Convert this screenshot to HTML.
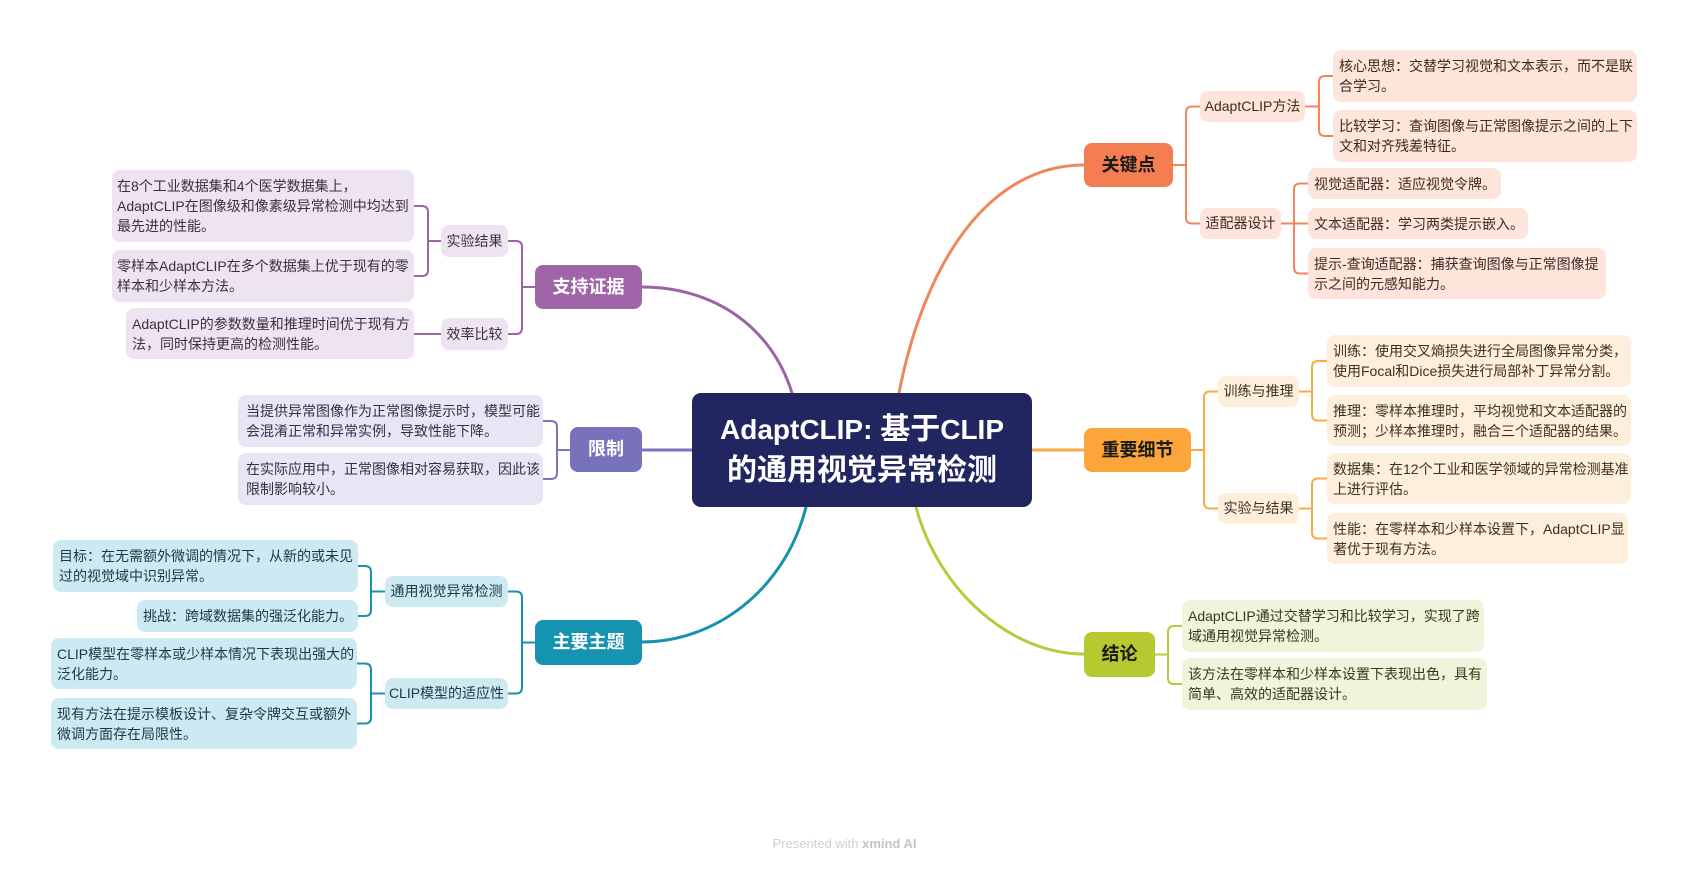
<!DOCTYPE html>
<html>
<head>
<meta charset="utf-8">
<style>
  html,body{margin:0;padding:0;}
  body{width:1689px;height:870px;background:#ffffff;position:relative;overflow:hidden;
       font-family:"Liberation Sans","Noto Sans CJK SC",sans-serif;}
  svg.wires{position:absolute;left:0;top:0;}
  .n{position:absolute;box-sizing:border-box;white-space:nowrap;}
  .leaf{font-size:14px;line-height:20px;padding:6px 0 0 6px;border-radius:8px;color:#333;}
  .sub{font-size:14px;line-height:31px;text-align:center;border-radius:8px;color:#333;}
  .main{font-size:18px;font-weight:bold;text-align:center;border-radius:8px;}
  .center{left:692px;top:393px;width:340px;height:114px;background:#212660;border-radius:9px;
          color:#fff;font-weight:bold;font-size:30px;line-height:41px;text-align:center;padding-top:16px;}
  .center .l{font-size:28px;}
  .pu{background:#ede3f1;color:#3a3040;}
  .la{background:#e8e6f4;color:#30304a;}
  .te{background:#cde9f1;color:#1e3840;}
  .or{background:#fde5dc;color:#3e2a20;}
  .ye{background:#fdefdb;color:#3e3020;}
  .gr{background:#f0f4db;color:#343a18;}
  .footer{position:absolute;left:0;top:836px;width:1689px;text-align:center;font-size:13px;color:#cfcfcf;line-height:16px;}
  .footer b{color:#c4c4c4;}
</style>
</head>
<body>
<svg class="wires" width="1689" height="870" viewBox="0 0 1689 870" fill="none" stroke-linecap="round" stroke-linejoin="round">
  <path d="M642,287 C715,287 772,328 792,393" stroke="#9c63a6" stroke-width="3"/>
  <path d="M899,393 C925,260 990,165 1084,165" stroke="#f0875c" stroke-width="3"/>
  <path d="M642,450 H692" stroke="#7b75bf" stroke-width="3"/>
  <path d="M1032,450 H1084" stroke="#f7aa45" stroke-width="3"/>
  <path d="M806,507 C785,590 715,642 642,642" stroke="#1891ad" stroke-width="3"/>
  <path d="M916,507 C938,590 1010,654 1084,654" stroke="#b9ca3c" stroke-width="3"/>

  <g stroke="#f0875c" stroke-width="2">
    <path d="M1173,165 H1186 M1200,106.5 H1192 Q1186,106.5 1186,112.5 V217.5 Q1186,223.5 1192,223.5 H1200"/>
    <path d="M1305,106.5 H1319 M1333,76 H1325 Q1319,76 1319,82 V130 Q1319,136 1325,136 H1333"/>
    <path d="M1281,223.5 H1294 M1308,183.5 H1300 Q1294,183.5 1294,189.5 V267.5 Q1294,273.5 1300,273.5 H1308 M1294,223.5 H1308"/>
  </g>
  <g stroke="#f7aa45" stroke-width="2">
    <path d="M1191,450 H1204 M1218,391.5 H1210 Q1204,391.5 1204,397.5 V502.5 Q1204,508.5 1210,508.5 H1218"/>
    <path d="M1299,391.5 H1312 M1327,361 H1318 Q1312,361 1312,367 V414.5 Q1312,420.5 1318,420.5 H1327"/>
    <path d="M1299,508.5 H1312 M1327,478.5 H1318 Q1312,478.5 1312,484.5 V532.5 Q1312,538.5 1318,538.5 H1327"/>
  </g>
  <g stroke="#b9ca3c" stroke-width="2">
    <path d="M1155,654.5 H1168 M1182,626 H1174 Q1168,626 1168,632 V678 Q1168,684 1174,684 H1182"/>
  </g>
  <g stroke="#9c63a6" stroke-width="2">
    <path d="M535,287 H522 M508,241 H516 Q522,241 522,247 V328 Q522,334 516,334 H508"/>
    <path d="M441,241 H428 M414,206 H422 Q428,206 428,212 V270 Q428,276 422,276 H414"/>
    <path d="M441,334 H414"/>
  </g>
  <g stroke="#7b75bf" stroke-width="2">
    <path d="M570,450 H557 M543,421 H551 Q557,421 557,427 V473 Q557,479 551,479 H543"/>
  </g>
  <g stroke="#1891ad" stroke-width="2">
    <path d="M535,642.5 H522 M508,591.5 H516 Q522,591.5 522,597.5 V687.5 Q522,693.5 516,693.5 H508"/>
    <path d="M385,591.5 H371 M358,566 H365 Q371,566 371,572 V610 Q371,616 365,616 H358"/>
    <path d="M385,693.5 H371 M357,663.5 H365 Q371,663.5 371,669.5 V717.5 Q371,723.5 365,723.5 H357"/>
  </g>
</svg>

<div class="n center"><span class="l">AdaptCLIP: </span>基于<span class="l">CLIP</span><br>的通用视觉异常检测</div>

<div class="n main" style="left:535px;top:265px;width:107px;height:44px;line-height:44px;background:#a065a9;color:#fff;">支持证据</div>
<div class="n main" style="left:570px;top:427px;width:72px;height:45px;line-height:45px;background:#7872bd;color:#fff;">限制</div>
<div class="n main" style="left:535px;top:620px;width:107px;height:45px;line-height:45px;background:#1593b0;color:#fff;">主要主题</div>
<div class="n main" style="left:1084px;top:143px;width:89px;height:44px;line-height:44px;background:#f47e51;color:#1a1a1a;">关键点</div>
<div class="n main" style="left:1084px;top:428px;width:107px;height:44px;line-height:44px;background:#fba53a;color:#1a1a1a;">重要细节</div>
<div class="n main" style="left:1084px;top:632px;width:71px;height:45px;line-height:45px;background:#b7c930;color:#1a1a1a;">结论</div>

<div class="n sub pu" style="left:441px;top:225px;width:67px;height:32px;line-height:32px;">实验结果</div>
<div class="n sub pu" style="left:441px;top:318px;width:67px;height:32px;line-height:32px;">效率比较</div>
<div class="n sub te" style="left:385px;top:576px;width:123px;height:31px;">通用视觉异常检测</div>
<div class="n sub te" style="left:385px;top:678px;width:123px;height:31px;">CLIP模型的适应性</div>
<div class="n sub or" style="left:1200px;top:91px;width:105px;height:31px;">AdaptCLIP方法</div>
<div class="n sub or" style="left:1200px;top:208px;width:81px;height:31px;">适配器设计</div>
<div class="n sub ye" style="left:1218px;top:376px;width:81px;height:31px;">训练与推理</div>
<div class="n sub ye" style="left:1218px;top:493px;width:81px;height:31px;">实验与结果</div>

<div class="n leaf pu" style="left:112px;top:170px;width:302px;height:72px;padding-left:5px;">在8个工业数据集和4个医学数据集上，<br>AdaptCLIP在图像级和像素级异常检测中均达到<br>最先进的性能。</div>
<div class="n leaf pu" style="left:112px;top:250px;width:302px;height:52px;padding-left:5px;">零样本AdaptCLIP在多个数据集上优于现有的零<br>样本和少样本方法。</div>
<div class="n leaf pu" style="left:126px;top:308px;width:288px;height:51px;">AdaptCLIP的参数数量和推理时间优于现有方<br>法，同时保持更高的检测性能。</div>

<div class="n leaf la" style="left:238px;top:395px;width:305px;height:52px;padding-left:8px;">当提供异常图像作为正常图像提示时，模型可能<br>会混淆正常和异常实例，导致性能下降。</div>
<div class="n leaf la" style="left:238px;top:453px;width:305px;height:52px;padding-left:8px;">在实际应用中，正常图像相对容易获取，因此该<br>限制影响较小。</div>

<div class="n leaf te" style="left:53px;top:540px;width:305px;height:52px;">目标：在无需额外微调的情况下，从新的或未见<br>过的视觉域中识别异常。</div>
<div class="n leaf te" style="left:137px;top:600px;width:221px;height:32px;">挑战：跨域数据集的强泛化能力。</div>
<div class="n leaf te" style="left:51px;top:638px;width:306px;height:51px;">CLIP模型在零样本或少样本情况下表现出强大的<br>泛化能力。</div>
<div class="n leaf te" style="left:51px;top:698px;width:306px;height:51px;">现有方法在提示模板设计、复杂令牌交互或额外<br>微调方面存在局限性。</div>

<div class="n leaf or" style="left:1333px;top:50px;width:304px;height:52px;">核心思想：交替学习视觉和文本表示，而不是联<br>合学习。</div>
<div class="n leaf or" style="left:1333px;top:110px;width:304px;height:52px;">比较学习：查询图像与正常图像提示之间的上下<br>文和对齐残差特征。</div>
<div class="n leaf or" style="left:1308px;top:168px;width:193px;height:31px;">视觉适配器：适应视觉令牌。</div>
<div class="n leaf or" style="left:1308px;top:208px;width:220px;height:31px;">文本适配器：学习两类提示嵌入。</div>
<div class="n leaf or" style="left:1308px;top:248px;width:298px;height:51px;">提示-查询适配器：捕获查询图像与正常图像提<br>示之间的元感知能力。</div>

<div class="n leaf ye" style="left:1327px;top:335px;width:304px;height:52px;">训练：使用交叉熵损失进行全局图像异常分类，<br>使用Focal和Dice损失进行局部补丁异常分割。</div>
<div class="n leaf ye" style="left:1327px;top:395px;width:304px;height:51px;">推理：零样本推理时，平均视觉和文本适配器的<br>预测；少样本推理时，融合三个适配器的结果。</div>
<div class="n leaf ye" style="left:1327px;top:453px;width:304px;height:51px;">数据集：在12个工业和医学领域的异常检测基准<br>上进行评估。</div>
<div class="n leaf ye" style="left:1327px;top:513px;width:301px;height:51px;">性能：在零样本和少样本设置下，AdaptCLIP显<br>著优于现有方法。</div>

<div class="n leaf gr" style="left:1182px;top:600px;width:302px;height:52px;">AdaptCLIP通过交替学习和比较学习，实现了跨<br>域通用视觉异常检测。</div>
<div class="n leaf gr" style="left:1182px;top:658px;width:305px;height:52px;">该方法在零样本和少样本设置下表现出色，具有<br>简单、高效的适配器设计。</div>

<div class="footer">Presented with <b>xmind AI</b></div>
</body>
</html>
